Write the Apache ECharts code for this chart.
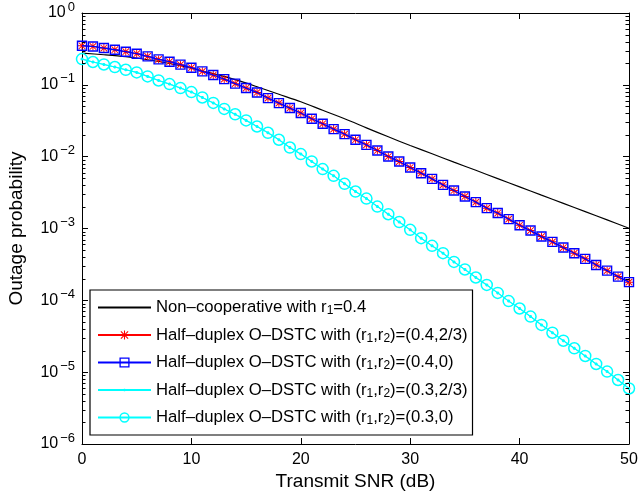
<!DOCTYPE html>
<html><head><meta charset="utf-8">
<script src="https://cdn.jsdelivr.net/npm/echarts@6/dist/echarts.min.js"></script>
<style>html,body{margin:0;padding:0;background:#fff}#c{width:639px;height:497px}</style>
</head><body><div id="c"></div>
<script>
// ---- data ----
const snr = [0,1,2,3,4,5,6,7,8,9,10,11,12,13,14,15,16,17,18,19,20,21,22,23,24,25,26,27,28,29,30,31,32,33,34,35,36,37,38,39,40,41,42,43,44,45,46,47,48,49,50];
const snrNonCoop = [0,2,4,6,8,10,12,14,16,18,20,22,24,26,28,30,32,34,36,38,40,42,44,46,48,50];
const pNonCoop = [0.277,0.2625,0.246,0.2236,0.198,0.170,0.143,0.118,0.094,0.0739,0.0581,0.0442,0.0337,0.0252,0.0189,0.0143,0.01096,0.0084,0.00646,0.00495,0.0038,0.00291,0.00224,0.00172,0.00132,0.00101];
const pHalf04_23 = [0.350,0.342,0.325,0.308,0.289,0.271,0.249,0.226,0.210,0.191,0.173,0.154,0.137,0.120,0.104,0.0902,0.0783,0.0654,0.0557,0.0475,0.0405,0.0337,0.0287,0.0242,0.0206,0.0172,0.0146,0.0122,0.01005,0.00855,0.00706,0.00589,0.00491,0.00405,0.00338,0.00279,0.00233,0.00192,0.00164,0.00135,0.00111,0.000936,0.000772,0.000652,0.000543,0.000453,0.000378,0.000311,0.000259,0.000214,0.000179];
const pHalf04_0 = [0.350,0.342,0.325,0.308,0.289,0.271,0.249,0.226,0.210,0.191,0.173,0.154,0.137,0.120,0.104,0.0902,0.0783,0.0654,0.0557,0.0475,0.0405,0.0337,0.0287,0.0242,0.0206,0.0172,0.0146,0.0122,0.01005,0.00855,0.00706,0.00589,0.00491,0.00405,0.00338,0.00279,0.00233,0.00192,0.00164,0.00135,0.00111,0.000936,0.000772,0.000652,0.000543,0.000453,0.000378,0.000311,0.000259,0.000214,0.000179];
const pHalf03_23 = [0.228,0.208,0.192,0.177,0.162,0.149,0.131,0.115,0.1025,0.0902,0.0793,0.0667,0.056,0.0462,0.0389,0.0320,0.0263,0.0215,0.0172,0.0134,0.01086,0.00857,0.00671,0.00541,0.00419,0.00327,0.00261,0.00202,0.00158,0.00123,0.000957,0.000733,0.000573,0.000453,0.000343,0.000269,0.000208,0.000164,0.000127,0.0000975,0.0000770,0.0000594,0.0000455,0.0000354,0.0000274,0.0000215,0.0000168,0.0000130,0.0000102,0.00000778,0.00000593];
const pHalf03_0 = [0.228,0.208,0.192,0.177,0.162,0.149,0.131,0.115,0.1025,0.0902,0.0793,0.0667,0.056,0.0462,0.0389,0.0320,0.0263,0.0215,0.0172,0.0134,0.01086,0.00857,0.00671,0.00541,0.00419,0.00327,0.00261,0.00202,0.00158,0.00123,0.000957,0.000733,0.000573,0.000453,0.000343,0.000269,0.000208,0.000164,0.000127,0.0000975,0.0000770,0.0000594,0.0000455,0.0000354,0.0000274,0.0000215,0.0000168,0.0000130,0.0000102,0.00000778,0.00000593];
const seriesNames = [
  'Non–cooperative with r1=0.4',
  'Half–duplex O–DSTC with (r1,r2)=(0.4,2/3)',
  'Half–duplex O–DSTC with (r1,r2)=(0.4,0)',
  'Half–duplex O–DSTC with (r1,r2)=(0.3,2/3)',
  'Half–duplex O–DSTC with (r1,r2)=(0.3,0)'
];
const xTicks = [0,10,20,30,40,50];
const yDecades = [1e-6,1e-5,1e-4,1e-3,1e-2,1e-1,1];
const minorMult = [2,3,4,5,6,7,8,9];

// ---- build ----
const FONT = '"Liberation Sans", Arial, Helvetica, sans-serif';
const pairs = (xs, ys) => xs.map((x, i) => [x, ys[i]]);
const minorTicks = [];
yDecades.slice(0, -1).forEach(d => minorMult.forEach(m => minorTicks.push([0, d * m])));

const starPath = 'path://M4.4,0 L5.6,0 L5.6,10 L4.4,10 Z M0,4.4 L10,4.4 L10,5.6 L0,5.6 Z M1.32,0.48 L9.52,8.68 L8.68,9.52 L0.48,1.32 Z M8.68,0.48 L9.52,1.32 L1.32,9.52 L0.48,8.68 Z';
const dotPath = 'path://M0,0 L0.01,0 L0,0.01 Z M10,10 L9.99,10 L10,9.99 Z M4.4,3.5 L5.6,3.5 L6.5,4.4 L6.5,5.6 L5.6,6.5 L4.4,6.5 L3.5,5.6 L3.5,4.4 Z';

const chart = echarts.init(document.getElementById('c'), null, {renderer: 'canvas'});
const axisLineStyle = {color: '#000', width: 1};
const option = {
  animation: false,
  backgroundColor: '#fff',
  grid: {left: 82, right: 10, top: 13, bottom: 53, containLabel: false, outerBoundsMode: 'none'},
  legend: {
    orient: 'vertical',
    left: 90, top: 290,
    padding: [9, 5, 8, 7],
    itemGap: 9.5,
    itemWidth: 53,
    itemHeight: 11,
    backgroundColor: '#fff',
    borderColor: '#000',
    borderWidth: 1.2,
    borderRadius: 0,
    selectedMode: false,
    data: [
      {name: seriesNames[0], itemStyle: {opacity: 0}},
      {name: seriesNames[1]},
      {name: seriesNames[2], itemStyle: {borderWidth: 1.3}},
      {name: seriesNames[3]},
      {name: seriesNames[4], itemStyle: {borderWidth: 1.5}}
    ],
    formatter: name => name.replace(/r(\d)/g, 'r{sub|$1}'),
    textStyle: {
      color: '#000', fontSize: 16.7, fontFamily: FONT,
      rich: {sub: {fontSize: 12, fontFamily: FONT, color: '#000', padding: [7, 0, 0, 0]}}
    }
  },
  xAxis: [{
    type: 'value', min: 0, max: 50, interval: 10, position: 'bottom',
    name: 'Transmit SNR (dB)', nameLocation: 'middle', nameGap: 28, nameMoveOverlap: false,
    nameTextStyle: {color: '#000', fontSize: 19, fontFamily: FONT},
    axisLine: {show: true, onZero: false, lineStyle: axisLineStyle},
    axisTick: {show: true, inside: true, length: 6, lineStyle: axisLineStyle},
    axisLabel: {color: '#000', fontSize: 16, fontFamily: FONT, margin: 8},
    splitLine: {show: false}
  }, {
    type: 'value', min: 0, max: 50, interval: 10, position: 'top',
    axisLine: {show: true, onZero: false, lineStyle: axisLineStyle},
    axisTick: {show: true, inside: true, length: 6, lineStyle: axisLineStyle},
    axisLabel: {show: false}, splitLine: {show: false}
  }],
  yAxis: [{
    type: 'log', logBase: 10, min: 1e-6, max: 1, interval: 1, position: 'left',
    name: 'Outage probability', nameLocation: 'middle', nameGap: 56, nameMoveOverlap: false,
    nameTextStyle: {color: '#000', fontSize: 19, fontFamily: FONT},
    axisLine: {show: true, onZero: false, lineStyle: axisLineStyle},
    axisTick: {show: true, inside: true, length: 6, lineStyle: axisLineStyle},
    axisLabel: {
      color: '#000', fontSize: 16, fontFamily: FONT, margin: 7,
      formatter: v => {
        const e = Math.round(Math.log10(v));
        return '10{sup|' + (e < 0 ? '−' + (-e) : String(e)) + '}';
      },
      rich: {sup: {fontSize: 13, fontFamily: FONT, color: '#000', padding: [0, 0, 12, 2]}}
    },
    splitLine: {show: false}
  }, {
    type: 'log', logBase: 10, min: 1e-6, max: 1, interval: 1, position: 'right',
    axisLine: {show: true, onZero: false, lineStyle: axisLineStyle},
    axisTick: {show: true, inside: true, length: 6, lineStyle: axisLineStyle},
    axisLabel: {show: false}, splitLine: {show: false}
  }],
  series: [
    {
      name: seriesNames[0], type: 'line', data: pairs(snrNonCoop, pNonCoop),
      symbol: 'none', smooth: 0.3,
      lineStyle: {color: '#000', width: 1.2}, itemStyle: {color: '#000'}, z: 2
    },
    {
      name: seriesNames[1], type: 'line', data: pairs(snr, pHalf04_23),
      symbol: starPath, symbolSize: 8, showAllSymbol: true,
      lineStyle: {color: '#ff0000', width: 1}, itemStyle: {color: '#ff0000'}, z: 3
    },
    {
      name: seriesNames[2], type: 'line', data: pairs(snr, pHalf04_0),
      symbol: 'rect', symbolSize: 9, showAllSymbol: true,
      lineStyle: {color: '#0000ff', width: 1.3},
      itemStyle: {color: 'rgba(0,0,0,0)', borderColor: '#0000ff', borderWidth: 1.4}, z: 4
    },
    {
      name: seriesNames[3], type: 'line', data: pairs(snr, pHalf03_23),
      symbol: dotPath, symbolSize: 10, showAllSymbol: true,
      lineStyle: {color: '#00ffff', width: 1}, itemStyle: {color: '#00ffff'}, z: 5
    },
    {
      name: seriesNames[4], type: 'line', data: pairs(snr, pHalf03_0),
      symbol: 'circle', symbolSize: 11, showAllSymbol: true,
      lineStyle: {color: '#00ffff', width: 1.2},
      itemStyle: {color: 'rgba(0,0,0,0)', borderColor: '#00ffff', borderWidth: 1.5}, z: 6
    },
    {
      name: 'minorTicks', type: 'custom', data: minorTicks, silent: true, z: 10,
      encode: {x: 0, y: 1},
      renderItem: function (params, api) {
        const y = Math.round(api.coord([0, api.value(1)])[1]) + 0.5;
        const cs = params.coordSys;
        return {type: 'group', children: [
          {type: 'line', shape: {x1: cs.x, y1: y, x2: cs.x + 3.5, y2: y}, style: {stroke: '#000', lineWidth: 1}},
          {type: 'line', shape: {x1: cs.x + cs.width, y1: y, x2: cs.x + cs.width - 3.5, y2: y}, style: {stroke: '#000', lineWidth: 1}}
        ]};
      }
    }
  ]
};
chart.setOption(option);
</script>
</body></html>
